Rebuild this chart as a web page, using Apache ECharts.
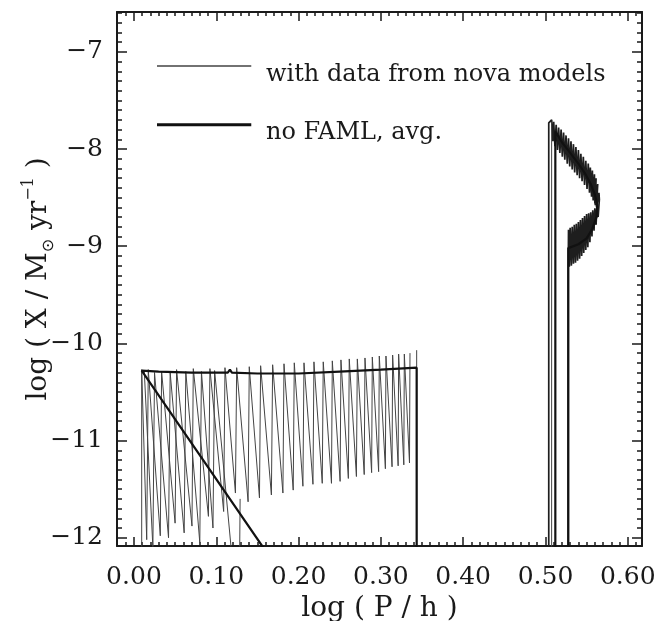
<!DOCTYPE html>
<html>
<head>
<meta charset="utf-8">
<script src="https://cdn.jsdelivr.net/npm/echarts@6/dist/echarts.min.js"></script>
<style>
html,body{margin:0;padding:0;background:#fff;}
#chart{width:668px;height:621px;}
</style>
</head>
<body>
<div id="chart"></div>
<script>
// ---- tick values and labels ----
const xMajorTicks = [0.0, 0.1, 0.2, 0.3, 0.4, 0.5, 0.6];
const xTickLabels = ['0.00', '0.10', '0.20', '0.30', '0.40', '0.50', '0.60'];
const yMajorTicks = [-12, -11, -10, -9, -8, -7];
const yTickLabels = ['\u221212', '\u221211', '\u221210', '\u22129', '\u22128', '\u22127'];

// ---- series names ----
const nameNova = 'with data from nova models';
const nameAvg = 'no FAML, avg.';

// ---- thin curve (nova models), below the gap: sawtooth ----
const novaBelowGap = [
  [0.0094,-12.10],[0.0094,-10.27],[0.0155,-12.02],[0.0174,-10.27],[0.0320,-11.98],[0.0336,-10.29],
  [0.0500,-11.85],[0.0518,-10.27],[0.0705,-11.88],[0.0721,-10.26],[0.0905,-11.78],[0.0923,-10.26],
  [0.1090,-11.73],[0.1106,-10.25],[0.1233,-11.54],[0.1248,-10.25],[0.1387,-11.63],[0.1401,-10.24],
  [0.1525,-11.59],[0.1539,-10.23],[0.1670,-11.56],[0.1685,-10.22],[0.1810,-11.54],[0.1823,-10.21],
  [0.1935,-11.51],[0.1948,-10.20],[0.2053,-11.47],[0.2066,-10.20],[0.2175,-11.45],[0.2187,-10.19],
  [0.2288,-11.44],[0.2300,-10.19],[0.2400,-11.44],[0.2410,-10.18],[0.2505,-11.42],[0.2515,-10.17],
  [0.2605,-11.39],[0.2616,-10.16],[0.2703,-11.37],[0.2714,-10.16],[0.2798,-11.35],[0.2807,-10.15],
  [0.2888,-11.33],[0.2896,-10.14],[0.2973,-11.32],[0.2981,-10.13],[0.3055,-11.29],[0.3062,-10.13],
  [0.3136,-11.27],[0.3143,-10.12],[0.3210,-11.26],[0.3216,-10.11],[0.3279,-11.25],[0.3285,-10.11],
  [0.3348,-11.23],[0.3354,-10.10]
];
const novaLeftTrack = [
  [0.0125,-10.28],[0.0230,-12.10],[0.0250,-10.30],[0.0420,-12.00],[0.0440,-10.30],[0.0610,-11.95],
  [0.0630,-10.29],[0.0800,-12.05],[0.0820,-10.29],[0.0960,-11.90],[0.0980,-10.28],[0.1180,-12.10]
];
const novaShortDrop = [[0.1290,-11.60],[0.1285,-12.10]];
const novaTurnOnBelow = [[0.3435,-12.10],[0.3435,-10.07]];

// ---- thin curve (nova models), above the gap ----
const novaAboveGap = [
  [0.5040,-12.10],[0.5040,-7.73],[0.5075,-7.70],
  [0.5090,-7.92],[0.5100,-7.72],[0.5115,-7.97],[0.5130,-7.75],[0.5145,-8.01],[0.5160,-7.78],
  [0.5175,-8.04],[0.5190,-7.80],[0.5205,-8.08],[0.5220,-7.83],[0.5235,-8.11],[0.5250,-7.86],
  [0.5265,-8.15],[0.5280,-7.89],[0.5295,-8.18],[0.5310,-7.92],[0.5325,-8.21],[0.5340,-7.95],
  [0.5355,-8.24],[0.5370,-7.98],[0.5385,-8.27],[0.5400,-8.01],[0.5415,-8.30],[0.5430,-8.05],
  [0.5445,-8.33],[0.5460,-8.08],[0.5475,-8.37],[0.5490,-8.12],[0.5505,-8.41],[0.5520,-8.15],
  [0.5535,-8.45],[0.5545,-8.19],[0.5560,-8.49],[0.5570,-8.22],[0.5580,-8.53],[0.5595,-8.26],
  [0.5600,-8.56],[0.5615,-8.30],[0.5605,-8.58],[0.5635,-8.36],[0.5620,-8.60],[0.5650,-8.45],
  [0.5655,-8.52],
  [0.5640,-8.70],[0.5625,-8.59],[0.5615,-8.78],[0.5600,-8.61],[0.5590,-8.84],[0.5575,-8.63],
  [0.5565,-8.90],[0.5550,-8.65],[0.5540,-8.96],[0.5525,-8.66],[0.5515,-9.01],[0.5500,-8.67],
  [0.5490,-9.04],[0.5475,-8.69],[0.5465,-9.07],[0.5450,-8.71],[0.5440,-9.10],[0.5425,-8.73],
  [0.5415,-9.13],[0.5400,-8.75],[0.5390,-9.15],[0.5375,-8.77],[0.5365,-9.17],[0.5350,-8.78],
  [0.5340,-9.18],[0.5325,-8.80],[0.5315,-9.20],[0.5300,-8.81],[0.5290,-9.21],[0.5280,-8.83],
  [0.5277,-9.22],[0.5277,-12.10]
];
const novaSecondTrack = [[0.5075,-12.10],[0.5075,-7.72]];

// ---- thick curve (no FAML, average) ----
const avgBelowGap = [
  [0.3435,-12.10],[0.3435,-10.25],[0.3000,-10.27],[0.2500,-10.29],[0.2000,-10.31],[0.1500,-10.31],
  [0.1190,-10.30],[0.1166,-10.27],[0.1140,-10.30],[0.0700,-10.30],[0.0300,-10.29],[0.0094,-10.28],
  [0.1570,-12.10]
];
const avgAboveGap = [
  [0.5120,-12.10],[0.5120,-7.82],[0.5200,-7.93],[0.5300,-8.04],[0.5400,-8.15],[0.5480,-8.25],
  [0.5550,-8.36],[0.5600,-8.47],[0.5630,-8.57],[0.5620,-8.70],[0.5570,-8.82],[0.5500,-8.92],
  [0.5400,-8.98],[0.5277,-9.02],[0.5277,-12.10]
];

// ---- minor tick positions (axis decoration) ----
const xMinorTicks = [];
for (let i = -1; i <= 61; i++) xMinorTicks.push(+(i * 0.01).toFixed(2));
const yMinorTicks = [];
for (let i = -120; i <= -66; i++) yMinorTicks.push(i / 10);

const X_MIN = -0.0206, X_MAX = 0.6173, Y_MIN = -12.085, Y_MAX = -6.59;
const FONT = 'DejaVu Serif';
const INK = '#1a1a1a';
const THIN = '#444';

function lookup(ticks, labels, v) {
  for (let i = 0; i < ticks.length; i++) if (Math.abs(ticks[i] - v) < 1e-6) return labels[i];
  return '';
}

function xAxisDef(pos, minor, labels) {
  return {
    type: 'value', position: pos, min: X_MIN, max: X_MAX,
    axisLine: { show: !minor, onZero: false, lineStyle: { color: INK, width: 2 } },
    axisTick: { show: true, inside: true, length: minor ? 4 : 9,
      customValues: minor ? xMinorTicks : xMajorTicks, lineStyle: { color: INK, width: 1.5 } },
    axisLabel: labels ? { show: true, customValues: xMajorTicks, margin: 19,
      fontFamily: FONT, fontSize: 25, color: INK,
      formatter: v => lookup(xMajorTicks, xTickLabels, v) } : { show: false },
    splitLine: { show: false }
  };
}
function yAxisDef(pos, minor, labels) {
  return {
    type: 'value', position: pos, min: Y_MIN, max: Y_MAX,
    axisLine: { show: !minor, onZero: false, lineStyle: { color: INK, width: 2 } },
    axisTick: { show: true, inside: true, length: minor ? 5 : 10,
      customValues: minor ? yMinorTicks : yMajorTicks, lineStyle: { color: INK, width: 1.5 } },
    axisLabel: labels ? { show: true, customValues: yMajorTicks, margin: 14,
      fontFamily: FONT, fontSize: 25, color: INK,
      formatter: v => lookup(yMajorTicks, yTickLabels, v) } : { show: false },
    splitLine: { show: false }
  };
}

const xBottom = xAxisDef('bottom', false, true);
xBottom.name = 'log ( P / h )';
xBottom.nameLocation = 'middle';
xBottom.nameGap = 44;
xBottom.nameTextStyle = { fontFamily: FONT, fontSize: 28, color: INK };

const yLeft = yAxisDef('left', false, true);
yLeft.name = '{a|log ( X / M}{s|\u2299}{a| yr}{p|\u22121}{a| )}';
yLeft.nameLocation = 'middle';
yLeft.nameRotate = 90;
yLeft.nameGap = 60;
yLeft.nameMoveOverlap = false;
yLeft.nameTextStyle = {
  fontFamily: FONT, fontSize: 28, color: INK,
  rich: {
    a: { fontFamily: FONT, fontSize: 28, color: INK, lineHeight: 36 },
    s: { fontFamily: 'DejaVu Sans', fontSize: 16, color: INK, verticalAlign: 'bottom', lineHeight: 18 },
    p: { fontFamily: FONT, fontSize: 16, color: INK, verticalAlign: 'top', lineHeight: 16 }
  }
};

function lineSeries(name, data, thick, w, c) {
  return {
    name: name, type: 'line', data: data, xAxisIndex: 0, yAxisIndex: 0,
    symbol: 'none', clip: true, animation: false, silent: true,
    lineStyle: thick ? { color: '#111', width: 2.2 } : { color: c || THIN, width: w || 1 },
    itemStyle: { color: thick ? '#111' : THIN },
    z: thick ? 3 : 2
  };
}

const option = {
  animation: false,
  backgroundColor: '#ffffff',
  grid: { left: 117, right: 26, top: 12, bottom: 75, containLabel: false, outerBoundsMode: 'none' },
  legend: {
    orient: 'vertical', left: 152, top: 58, itemWidth: 104, itemHeight: 20, itemGap: 34,
    selectedMode: false,
    textStyle: { fontFamily: FONT, fontSize: 24, color: INK },
    data: [
      { name: nameNova, icon: 'path://M0,0H97V1.6H0Z M107,20H107.01V20.01H107Z', itemStyle: { color: THIN } },
      { name: nameAvg, icon: 'path://M0,0H97V3H0Z M107,20H107.01V20.01H107Z', itemStyle: { color: '#111' } }
    ]
  },
  xAxis: [
    xBottom,
    xAxisDef('bottom', true, false),
    xAxisDef('top', false, false),
    xAxisDef('top', true, false)
  ],
  yAxis: [
    yLeft,
    yAxisDef('left', true, false),
    yAxisDef('right', false, false),
    yAxisDef('right', true, false)
  ],
  series: [
    lineSeries(nameNova, novaBelowGap, false),
    lineSeries(nameNova, novaLeftTrack, false),
    lineSeries(nameNova, novaShortDrop, false),
    lineSeries(nameNova, novaTurnOnBelow, false),
    lineSeries(nameNova, novaAboveGap, false, 1.7, '#1e1e1e'),
    lineSeries(nameNova, novaSecondTrack, false),
    lineSeries(nameAvg, avgBelowGap, true),
    lineSeries(nameAvg, avgAboveGap, true)
  ]
};

const chart = echarts.init(document.getElementById('chart'), null, { renderer: 'canvas' });
chart.setOption(option);
</script>
</body>
</html>
